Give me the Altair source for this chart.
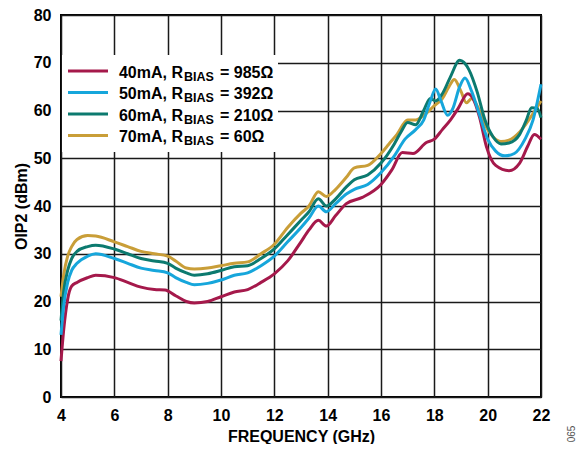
import altair as alt
import pandas as pd

# ---- data ----
f_40 = [4.0, 4.1, 4.25, 4.4, 4.6, 5.0, 5.3, 6.0, 6.5, 7.0, 7.5, 7.9, 8.3, 8.7, 9.0, 9.5, 10.0, 10.5, 11.0, 11.5,
        12.0, 12.5, 13.0, 13.3, 13.65, 13.95, 14.3, 14.7, 15.3, 16.0, 16.4, 16.8, 17.2, 17.7, 18.0, 18.3, 18.6,
        18.9, 19.25, 19.45, 19.7, 19.95, 20.3, 20.8, 21.2, 21.5, 21.75, 22.0]
v_40 = [7.5, 14, 20.5, 23.2, 24, 25, 25.5, 25, 24, 23, 22.5, 22.4, 21.2, 20, 19.7, 20, 21, 22, 22.5, 24,
        25.8, 28.5, 32.5, 35, 37, 35.8, 38, 40.5, 41.8, 44.5, 47.5, 51.2, 51, 53.3, 54, 56, 58,
        60.5, 63.5, 62.5, 58.5, 52.5, 48.5, 47.4, 49, 52.5, 55, 54]

f_50 = [4.0, 4.1, 4.25, 4.4, 4.6, 5.0, 5.3, 6.0, 6.5, 7.0, 7.5, 8.0, 8.3, 8.7, 9.0, 9.5, 10.0, 10.5, 11.0, 11.5,
        12.0, 12.5, 13.0, 13.3, 13.65, 13.95, 14.3, 14.7, 15.0, 15.5, 16.0, 16.5, 16.9, 17.3, 17.6, 17.85, 18.05,
        18.25, 18.5, 18.7, 18.95, 19.15, 19.4, 19.7, 20.0, 20.3, 20.65, 21.0, 21.4, 21.7, 22.0]
v_50 = [13, 19, 24, 26.5, 28, 29.5, 30, 29, 28, 27, 26.5, 26, 25, 24, 23.5, 23.8, 24.5, 25.5, 26, 27.5,
        29.5, 32.5, 35.5, 37.5, 40, 38.8, 40.5, 42.5, 43.5, 44.5, 47, 50.5, 54, 56, 58, 62, 64.5,
        62, 59, 60.5, 65, 66.8, 64, 59, 54, 51.5, 50.5, 51, 54, 58, 65.5]

f_60 = [4.0, 4.1, 4.25, 4.4, 4.6, 5.0, 5.3, 6.0, 6.5, 7.0, 7.5, 8.0, 8.3, 8.7, 9.0, 9.5, 10.0, 10.5, 11.0, 11.5,
        12.0, 12.5, 13.0, 13.3, 13.65, 13.95, 14.3, 14.7, 15.0, 15.5, 16.0, 16.5, 16.75, 17.0, 17.3, 17.6, 17.85,
        18.05, 18.3, 18.6, 18.95, 19.3, 19.6, 19.9, 20.2, 20.5, 20.8, 21.2, 21.45, 21.65, 21.85, 22.0]
v_60 = [16, 22, 26.5, 29, 30.5, 31.5, 31.8, 31, 30, 29, 28.5, 28, 27, 26, 25.5, 25.8, 26.5, 27.3, 27.5, 29,
        31, 34, 37, 38.8, 41.5, 40, 41.5, 44, 45.5, 46.5, 49, 53, 55.5, 57.5, 57, 60, 62.5,
        62, 63.5, 67, 70.5, 68.5, 64, 58, 54.5, 53, 53.2, 55, 58, 60.6, 60.5, 58.5]

f_70 = [4.0, 4.1, 4.25, 4.4, 4.6, 5.0, 5.3, 6.0, 6.5, 7.0, 7.5, 8.0, 8.3, 8.7, 9.0, 9.5, 10.0, 10.5, 11.0, 11.5,
        12.0, 12.5, 13.0, 13.3, 13.65, 13.95, 14.3, 14.7, 15.0, 15.5, 16.0, 16.3, 16.6, 17.0, 17.3, 17.6, 18.0,
        18.3, 18.55, 18.75, 19.0, 19.2, 19.4, 19.65, 19.9, 20.2, 20.5, 20.8, 21.2, 21.6, 22.0]
v_70 = [21, 25.5, 29.5, 31.5, 33, 33.8, 33.7, 32.5, 31.5, 30.5, 30, 29.5, 28.5, 27, 26.8, 27, 27.5, 28, 28.3, 30,
        32, 35.5, 38.5, 40, 43, 42, 43.5, 46, 48, 48.5, 51, 53, 55, 58, 58, 59, 61,
        62.5, 65, 66.5, 64, 61.6, 62.5, 60.5, 57, 54.5, 53.5, 53.8, 55.5, 58.5, 62]

currents = ["40mA", "50mA", "60mA", "70mA"]
rbias = ["985Ω", "392Ω", "210Ω", "60Ω"]
colors = ["#A5194B", "#16A6DB", "#0C7A6F", "#C99E38"]

x_ticks = [4, 6, 8, 10, 12, 14, 16, 18, 20, 22]
y_ticks = [0, 10, 20, 30, 40, 50, 60, 70, 80]

FONT = "Liberation Sans"

frames = []
for cur, fs, vs in zip(currents, [f_40, f_50, f_60, f_70], [v_40, v_50, v_60, v_70]):
    frames.append(pd.DataFrame({"freq": fs, "oip2": vs, "series": cur}))
df = pd.concat(frames, ignore_index=True)

H = 382
x_enc = alt.X("freq:Q", scale=alt.Scale(domain=[4, 22], nice=False),
              axis=alt.Axis(values=x_ticks, title="FREQUENCY (GHz)", ticks=False, labelPadding=10,
                            labelFlush=False, titleY=44, titleBaseline="alphabetic"))
y_enc = alt.Y("oip2:Q", scale=alt.Scale(domain=[0, 80], nice=False),
              axis=alt.Axis(values=y_ticks, title="OIP2 (dBm)", ticks=False, labelPadding=10,
                            labelFlush=False,
                            titleX=-40, titleY=H / 2, titleAngle=-90, titleBaseline="middle",
                            titleAlign="center"))

layers = []
for cur in ["70mA", "60mA", "40mA", "50mA"]:
    layers.append(
        alt.Chart(df[df["series"] == cur]).mark_line(strokeWidth=3, interpolate="monotone").encode(
            x=x_enc, y=y_enc,
            color=alt.Color("series:N", scale=alt.Scale(domain=currents, range=colors), legend=None),
        )
    )

# legend box
leg_box = alt.Chart(pd.DataFrame({"a": [0]})).mark_rect(fill="white").encode(
    x=alt.value(1), x2=alt.value(217), y=alt.value(40), y2=alt.value(137)
)
layers.append(leg_box)

row_y = [56, 77.5, 99, 120.5]
for i, (cur, rb, col) in enumerate(zip(currents, rbias, colors)):
    ly = row_y[i]
    ldf = pd.DataFrame({"main": [f"{cur}, R"], "sub": ["BIAS"], "tail": [f"= {rb}"]})
    base = alt.Chart(ldf)
    layers.append(base.mark_rule(strokeWidth=3, color=col).encode(
        x=alt.value(7), x2=alt.value(47), y=alt.value(ly)))
    layers.append(base.mark_text(align="right", baseline="alphabetic", font=FONT, fontSize=16,
                                 fontWeight="bold", color="black").encode(
        x=alt.value(122), y=alt.value(ly + 6.5), text="main:N"))
    layers.append(base.mark_text(align="left", baseline="alphabetic", font=FONT, fontSize=12.5,
                                 fontWeight="bold", color="black").encode(
        x=alt.value(123), y=alt.value(ly + 9.5), text="sub:N"))
    layers.append(base.mark_text(align="left", baseline="alphabetic", font=FONT, fontSize=16,
                                 fontWeight="bold", color="black").encode(
        x=alt.value(159), y=alt.value(ly + 6.5), text="tail:N"))

fig_id = alt.Chart(pd.DataFrame({"t": ["065"]})).mark_text(
    angle=270, font=FONT, fontSize=10, color="#555555", align="center", baseline="middle"
).encode(x=alt.value(511), y=alt.value(419), text="t:N")
layers.append(fig_id)

chart = alt.layer(*layers).properties(
    width=480, height=H,
    padding={"left": 53, "top": 7, "right": 38, "bottom": 47},
    autosize="none",
).configure_view(
    stroke="black", strokeWidth=2
).configure_axis(
    domain=False, grid=True, gridColor="#1a1a1a", gridWidth=1.5, gridOpacity=1,
    labelFont=FONT, labelFontSize=16, labelFontWeight="bold", labelColor="black",
    titleFont=FONT, titleFontSize=16, titleFontWeight="bold", titleColor="black",
)

chart.save("out.html", embed_options={"renderer": "svg", "actions": False})
